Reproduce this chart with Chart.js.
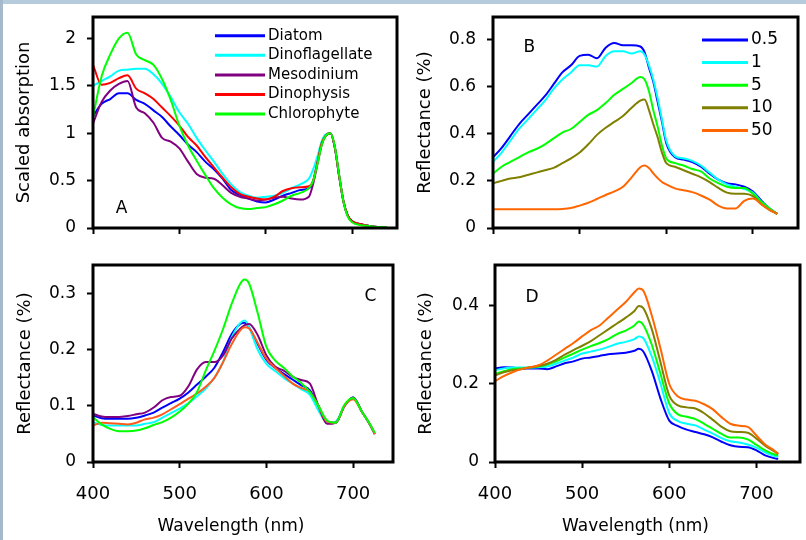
<!DOCTYPE html>
<html>
<head>
<meta charset="utf-8">
<script src="https://cdn.jsdelivr.net/npm/chart.js@4.4.0/dist/chart.umd.min.js"></script>
<style>
    html, body { margin: 0; padding: 0; background: #ffffff; }
    #page { position: relative; width: 806px; height: 540px; overflow: hidden; background: #ffffff; }
    #topband { position: absolute; left: 0; top: 0; width: 806px; height: 4px; background: #b6cbdc; }
    #leftband { position: absolute; left: 0; top: 0; width: 3px; height: 540px; background: #a6bacc; }
    canvas { position: absolute; }
</style>
</head>
<body>
<div id="page">
    <canvas id="chartA" width="400" height="250" style="left:0px;top:0px"></canvas>
    <canvas id="chartB" width="406" height="250" style="left:400px;top:0px"></canvas>
    <canvas id="chartC" width="400" height="290" style="left:0px;top:250px"></canvas>
    <canvas id="chartD" width="406" height="290" style="left:400px;top:250px"></canvas>
    <div id="topband"></div>
    <div id="leftband"></div>
</div>
<script>
// ---- panel A: scaled absorption by group ----
var wlA = [400,410,420,430,440,450,460,470,480,490,500,510,520,530,540,550,560,570,580,590,600,610,620,630,640,650,655,660,665,670,675,680,685,690,695,700,710,720,730,740];
var diatomA = [1.18,1.31,1.36,1.42,1.42,1.35,1.31,1.24,1.17,1.07,0.98,0.88,0.80,0.70,0.62,0.52,0.40,0.35,0.31,0.28,0.27,0.30,0.34,0.37,0.40,0.42,0.50,0.70,0.90,0.98,1.0,0.85,0.55,0.28,0.13,0.07,0.04,0.02,0.01,0.01];
var dinoflagA = [1.50,1.55,1.60,1.66,1.67,1.68,1.68,1.62,1.52,1.38,1.22,1.10,0.95,0.82,0.70,0.57,0.46,0.38,0.34,0.32,0.33,0.34,0.37,0.42,0.46,0.52,0.62,0.76,0.92,0.99,1.0,0.85,0.55,0.28,0.13,0.07,0.04,0.02,0.01,0.01];
var mesoA = [1.10,1.33,1.45,1.52,1.55,1.27,1.21,1.11,0.95,0.91,0.84,0.70,0.57,0.53,0.52,0.45,0.37,0.33,0.31,0.29,0.30,0.32,0.33,0.31,0.30,0.33,0.47,0.68,0.88,0.98,1.0,0.85,0.55,0.28,0.13,0.07,0.04,0.02,0.01,0.01];
var dinophysisA = [1.72,1.51,1.53,1.58,1.61,1.47,1.42,1.36,1.27,1.18,1.08,0.96,0.87,0.75,0.64,0.53,0.43,0.36,0.33,0.31,0.30,0.33,0.39,0.42,0.43,0.44,0.50,0.70,0.90,0.98,1.0,0.85,0.55,0.28,0.13,0.07,0.04,0.02,0.01,0.01];
var chloroA = [1.17,1.60,1.83,2.00,2.06,1.83,1.77,1.72,1.57,1.35,1.08,0.87,0.71,0.56,0.42,0.32,0.25,0.21,0.20,0.21,0.22,0.25,0.29,0.34,0.37,0.42,0.50,0.68,0.88,0.98,1.0,0.86,0.56,0.28,0.12,0.06,0.03,0.02,0.01,0.01];

// ---- panel B: reflectance vs chlorophyll ----
var wlB = [400,410,420,430,440,450,460,470,480,490,500,510,520,530,540,550,560,570,575,580,585,590,595,600,610,620,630,640,650,660,670,680,690,700,710,720,728];
var halfB = [0.30,0.34,0.39,0.44,0.48,0.52,0.56,0.61,0.66,0.69,0.73,0.735,0.72,0.765,0.785,0.775,0.775,0.77,0.745,0.68,0.62,0.535,0.45,0.36,0.30,0.29,0.28,0.26,0.23,0.205,0.19,0.185,0.175,0.155,0.115,0.08,0.06];
var oneB = [0.28,0.32,0.37,0.42,0.46,0.50,0.54,0.59,0.63,0.66,0.69,0.69,0.685,0.73,0.75,0.75,0.74,0.75,0.735,0.69,0.63,0.55,0.46,0.37,0.305,0.295,0.285,0.265,0.235,0.205,0.185,0.175,0.165,0.15,0.11,0.08,0.06];
var fiveB = [0.23,0.26,0.28,0.30,0.32,0.335,0.355,0.38,0.405,0.42,0.45,0.48,0.50,0.53,0.565,0.59,0.615,0.64,0.63,0.58,0.50,0.43,0.35,0.295,0.275,0.265,0.25,0.24,0.21,0.19,0.175,0.17,0.17,0.145,0.11,0.08,0.06];
var tenB = [0.19,0.20,0.21,0.215,0.225,0.235,0.245,0.255,0.275,0.295,0.32,0.355,0.395,0.425,0.45,0.475,0.51,0.54,0.545,0.50,0.44,0.385,0.32,0.275,0.26,0.245,0.23,0.215,0.195,0.17,0.15,0.145,0.145,0.135,0.10,0.075,0.06];
var fiftyB = [0.08,0.08,0.08,0.08,0.08,0.08,0.08,0.08,0.081,0.085,0.095,0.107,0.123,0.14,0.155,0.175,0.215,0.258,0.265,0.255,0.232,0.212,0.195,0.185,0.168,0.16,0.152,0.138,0.12,0.095,0.083,0.083,0.115,0.125,0.10,0.075,0.06];

// ---- panel C: reflectance by group ----
var wlC = [400,410,420,430,440,450,460,470,480,490,500,510,520,530,540,550,560,570,575,580,590,600,610,620,630,640,650,660,670,680,690,700,710,720,725];
var diatomC = [0.083,0.078,0.077,0.077,0.077,0.079,0.083,0.088,0.097,0.105,0.113,0.124,0.138,0.152,0.168,0.196,0.228,0.246,0.248,0.24,0.21,0.182,0.168,0.157,0.147,0.137,0.128,0.1,0.07,0.07,0.1,0.115,0.09,0.065,0.05];
var dinoflagC = [0.071,0.066,0.065,0.065,0.065,0.065,0.068,0.071,0.079,0.087,0.095,0.105,0.117,0.131,0.15,0.178,0.222,0.248,0.252,0.24,0.2,0.175,0.162,0.15,0.14,0.13,0.12,0.092,0.07,0.072,0.1,0.115,0.09,0.065,0.05];
var mesoC = [0.086,0.081,0.08,0.08,0.082,0.085,0.088,0.097,0.11,0.116,0.118,0.135,0.165,0.178,0.178,0.19,0.22,0.238,0.244,0.246,0.226,0.19,0.17,0.163,0.152,0.146,0.14,0.1,0.068,0.07,0.1,0.115,0.09,0.065,0.05];
var dinophysisC = [0.065,0.07,0.069,0.068,0.067,0.07,0.076,0.079,0.085,0.094,0.103,0.113,0.122,0.134,0.15,0.178,0.21,0.235,0.24,0.238,0.212,0.184,0.168,0.154,0.14,0.132,0.125,0.1,0.072,0.07,0.1,0.112,0.09,0.065,0.05];
var chloroC = [0.08,0.067,0.059,0.055,0.055,0.056,0.06,0.066,0.071,0.079,0.09,0.104,0.125,0.163,0.198,0.237,0.282,0.318,0.325,0.318,0.265,0.205,0.181,0.168,0.153,0.141,0.125,0.1,0.074,0.07,0.102,0.114,0.09,0.066,0.052];

// ---- panel D: reflectance vs chlorophyll ----
var wlD = [400,410,420,430,440,450,460,470,480,490,500,510,520,530,540,550,560,565,570,580,590,600,610,620,630,640,650,660,670,680,690,700,710,720,725];
var halfD = [0.24,0.243,0.242,0.24,0.24,0.24,0.238,0.245,0.253,0.258,0.265,0.268,0.272,0.276,0.278,0.28,0.285,0.29,0.284,0.233,0.162,0.106,0.092,0.083,0.077,0.071,0.063,0.052,0.043,0.039,0.038,0.03,0.017,0.01,0.008];
var oneD = [0.235,0.24,0.242,0.242,0.242,0.243,0.245,0.252,0.26,0.268,0.278,0.283,0.288,0.295,0.303,0.308,0.315,0.322,0.318,0.27,0.2,0.125,0.105,0.098,0.094,0.083,0.073,0.061,0.053,0.05,0.045,0.037,0.025,0.016,0.013];
var fiveD = [0.226,0.233,0.238,0.24,0.242,0.245,0.25,0.258,0.268,0.278,0.288,0.297,0.305,0.315,0.328,0.337,0.35,0.36,0.352,0.3,0.225,0.15,0.122,0.116,0.11,0.098,0.085,0.072,0.063,0.063,0.058,0.044,0.03,0.02,0.017];
var tenD = [0.222,0.23,0.235,0.238,0.242,0.246,0.252,0.262,0.275,0.287,0.298,0.31,0.325,0.34,0.355,0.37,0.387,0.40,0.395,0.34,0.255,0.17,0.145,0.14,0.137,0.125,0.108,0.09,0.079,0.077,0.075,0.06,0.042,0.028,0.021];
var fiftyD = [0.207,0.22,0.23,0.238,0.243,0.248,0.26,0.275,0.29,0.305,0.322,0.338,0.35,0.37,0.39,0.41,0.435,0.445,0.44,0.375,0.29,0.2,0.168,0.16,0.157,0.148,0.135,0.115,0.098,0.093,0.09,0.068,0.045,0.03,0.021];

var groupLabels = ['Diatom', 'Dinoflagellate', 'Mesodinium', 'Dinophysis', 'Chlorophyte'];
var chlLabels = ['0.5', '1', '5', '10', '50'];
var groupColors = ['#0000ff', '#00ffff', '#800080', '#ff0000', '#00ff00'];
var groupColorsC = ['#0000ff', '#00ffff', '#800080', '#ff5a1e', '#00ff00'];
var chlColors = ['#0000ff', '#00ffff', '#00ff00', '#808000', '#ff6600'];

var xTicks = [400, 500, 600, 700];
var yTicksA = [0, 0.5, 1, 1.5, 2];
var yTicksB = [0, 0.2, 0.4, 0.6, 0.8];
var yTicksC = [0, 0.1, 0.2, 0.3];
var yTicksD = [0, 0.2, 0.4];

Chart.defaults.font.family = '"DejaVu Sans", sans-serif';
Chart.defaults.color = '#000';

// frame, panel letter, x title and in-plot legend
var panelDecor = {
    id: 'panelDecor',
    afterDraw: function(chart, args, opts) {
        var ctx = chart.ctx;
        var a = chart.chartArea;
        ctx.save();
        ctx.strokeStyle = '#000';
        ctx.lineWidth = 3;
        ctx.strokeRect(a.left, a.top, a.right - a.left, a.bottom - a.top);

        ctx.fillStyle = '#000';
        ctx.font = '17px "DejaVu Sans"';
        ctx.textAlign = 'center';
        ctx.textBaseline = 'middle';
        ctx.fillText(opts.letter, chart.scales.x.getPixelForValue(opts.letterAt[0]), chart.scales.y.getPixelForValue(opts.letterAt[1]));

        if (opts.xTitle) {
            ctx.font = '17px "DejaVu Sans"';
            ctx.fillText(opts.xTitle, (a.left + a.right) / 2 - 12, chart.height - 13);
        }

        if (opts.legend) {
            var L = opts.legend;
            ctx.font = L.size + 'px "DejaVu Sans"';
            ctx.textAlign = 'left';
            chart.data.datasets.forEach(function(ds, i) {
                var y = a.top + L.top + i * L.gap;
                ctx.strokeStyle = ds.borderColor;
                ctx.lineWidth = 3;
                ctx.beginPath();
                ctx.moveTo(a.left + L.x0, y);
                ctx.lineTo(a.left + L.x1, y);
                ctx.stroke();
                ctx.fillText(ds.label, a.left + L.x1 + 3, y);
            });
        }
        ctx.restore();
    }
};

function makePanel(id, wl, series, labels, colors, p) {
    var datasets = series.map(function(s, i) {
        return {
            label: labels[i],
            data: wl.map(function(w, k) { return {x: w, y: s[k]}; }),
            borderColor: colors[i],
            backgroundColor: colors[i],
            borderWidth: 2,
            pointRadius: 0,
            cubicInterpolationMode: 'monotone',
            order: -i
        };
    });

    return new Chart(document.getElementById(id), {
        type: 'line',
        data: { datasets: datasets },
        options: {
            responsive: false,
            animation: false,
            devicePixelRatio: 1,
            layout: { padding: { left: 0, top: p.padTop, right: p.padRight, bottom: 0 } },
            plugins: {
                legend: { display: false },
                tooltip: { enabled: false },
                panelDecor: {
                    letter: p.letter,
                    letterAt: p.letterAt,
                    legend: p.legend,
                    xTitle: p.showX ? 'Wavelength (nm)' : null
                }
            },
            scales: {
                x: {
                    type: 'linear',
                    min: 400,
                    max: p.xMax,
                    afterBuildTicks: function(s) { s.ticks = xTicks.map(function(v) { return {value: v}; }); },
                    afterFit: function(s) { s.height = p.xHeight; s.paddingLeft = 0; s.paddingRight = 0; },
                    grid: { drawOnChartArea: false, drawTicks: true, tickLength: 6, tickWidth: 2, tickColor: '#000' },
                    border: { display: false },
                    ticks: {
                        display: p.showX,
                        maxRotation: 0,
                        padding: 16,
                        font: { size: 18 },
                        callback: function(v) { return String(v); }
                    }
                },
                y: {
                    type: 'linear',
                    min: 0,
                    max: p.yMax,
                    afterBuildTicks: function(s) { s.ticks = p.yTicks.map(function(v) { return {value: v}; }); },
                    afterFit: function(s) { s.width = p.yWidth; s.paddingTop = 0; s.paddingBottom = 0; },
                    grid: { drawOnChartArea: false, drawTicks: true, tickLength: 6, tickWidth: 2, tickColor: '#000' },
                    border: { display: false },
                    ticks: {
                        padding: p.tickPad,
                        font: { size: 17 },
                        callback: function(v) { return String(v); }
                    },
                    title: {
                        display: true,
                        text: p.yTitle,
                        font: { size: 18 },
                        padding: { top: p.titlePad, bottom: 0 }
                    }
                }
            }
        },
        plugins: [panelDecor]
    });
}

window.onload = function() {
    makePanel('chartA', wlA, [diatomA, dinoflagA, mesoA, dinophysisA, chloroA], groupLabels, groupColors, {
        padTop: 17, padRight: 3, yWidth: 93, xHeight: 22, xMax: 752, yMax: 2.225, yTicks: yTicksA,
        tickPad: 11, titlePad: 14, showX: false, yTitle: 'Scaled absorption',
        letter: 'A', letterAt: [433, 0.21],
        legend: { size: 15, top: 18.7, gap: 19.6, x0: 122, x1: 172 }
    });
    makePanel('chartB', wlB, [halfB, oneB, fiveB, tenB, fiftyB], chlLabels, chlColors, {
        padTop: 17, padRight: 8, yWidth: 93, xHeight: 22, xMax: 752, yMax: 0.895, yTicks: yTicksB,
        tickPad: 11, titlePad: 15, showX: false, yTitle: 'Reflectance (%)',
        letter: 'B', letterAt: [442, 0.767],
        legend: { size: 17, top: 23, gap: 22.6, x0: 209, x1: 255 }
    });
    makePanel('chartC', wlC, [diatomC, dinoflagC, mesoC, dinophysisC, chloroC], groupLabels, groupColorsC, {
        padTop: 15, padRight: 7, yWidth: 93, xHeight: 78, xMax: 746, yMax: 0.351, yTicks: yTicksC,
        tickPad: 11, titlePad: 15, showX: true, yTitle: 'Reflectance (%)',
        letter: 'C', letterAt: [720, 0.294],
        legend: null
    });
    makePanel('chartD', wlD, [halfD, oneD, fiveD, tenD, fiftyD], chlLabels, chlColors, {
        padTop: 15, padRight: 6, yWidth: 95, xHeight: 78, xMax: 750, yMax: 0.505, yTicks: yTicksD,
        tickPad: 10, titlePad: 16, showX: true, yTitle: 'Reflectance (%)',
        letter: 'D', letterAt: [442.5, 0.422],
        legend: null
    });
};
</script>
</body>
</html>
